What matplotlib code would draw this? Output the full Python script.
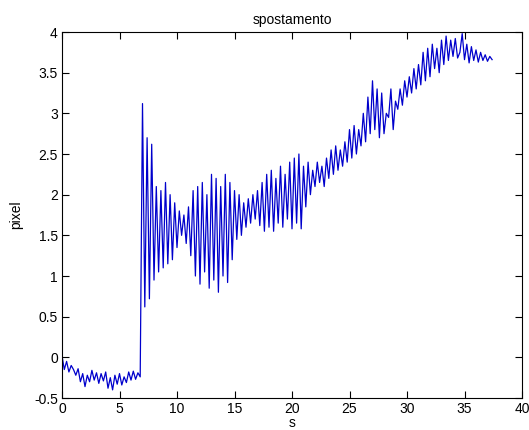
import numpy as np
import matplotlib
matplotlib.use("Agg")
import matplotlib.pyplot as plt

plt.rcParams['font.family'] = ['Liberation Sans', 'DejaVu Sans']
plt.rcParams['axes.unicode_minus'] = False

# sampling interval of the tracked displacement (s)
sample_step = 0.2

# displacement before the impulse (t = 0.0 .. 6.8 s)
rest_phase = [
    0.02, -0.15, -0.05, -0.18, -0.10, -0.15, -0.22, -0.14, -0.30, -0.20,
    -0.36, -0.22, -0.30, -0.16, -0.28, -0.19, -0.32, -0.20, -0.29, -0.18,
    -0.38, -0.25, -0.40, -0.22, -0.33, -0.20, -0.34, -0.24, -0.31, -0.18,
    -0.28, -0.17, -0.27, -0.19, -0.24,
]

# displacement after the impulse (t = 7.0 .. 37.4 s)
response_phase = [
    3.12, 0.62, 2.70, 0.72, 2.62, 0.95, 2.10, 1.05, 2.05, 1.10,
    2.15, 1.15, 2.00, 1.20, 1.90, 1.35, 1.80, 1.50, 1.75, 1.40,
    1.85, 1.25, 2.05, 1.00, 2.10, 0.90, 2.15, 1.05, 2.00, 0.85,
    2.25, 0.95, 2.20, 0.80, 2.10, 1.00, 2.25, 0.92, 2.15, 1.20,
    2.05, 1.45, 2.00, 1.50, 1.90, 1.60, 1.95, 1.65, 2.00, 1.70,
    2.05, 1.62, 2.15, 1.55, 2.25, 1.60, 2.30, 1.55, 2.20, 1.65,
    2.35, 1.60, 2.25, 1.70, 2.40, 1.58, 2.45, 1.65, 2.50, 1.58,
    2.35, 1.85, 2.40, 2.00, 2.30, 2.10, 2.40, 2.15, 2.35, 2.10,
    2.45, 2.20, 2.55, 2.25, 2.60, 2.30, 2.55, 2.35, 2.65, 2.40,
    2.80, 2.45, 2.85, 2.50, 2.80, 2.60, 3.00, 2.65, 3.20, 2.75,
    3.40, 2.80, 3.30, 2.70, 3.25, 2.75, 3.00, 2.95, 3.30, 2.80,
    3.15, 3.05, 3.30, 3.10, 3.40, 3.20, 3.45, 3.25, 3.55, 3.30,
    3.60, 3.35, 3.75, 3.40, 3.80, 3.45, 3.85, 3.55, 3.80, 3.50,
    3.90, 3.60, 3.95, 3.65, 3.90, 3.70, 3.92, 3.68, 3.75, 3.98,
    3.66, 3.85, 3.62, 3.82, 3.65, 3.78, 3.63, 3.75, 3.65, 3.72,
    3.64, 3.70, 3.66,
]

x_ticks = [0, 5, 10, 15, 20, 25, 30, 35, 40]
y_ticks = [-0.5, 0, 0.5, 1, 1.5, 2, 2.5, 3, 3.5, 4]

displacement = np.array(rest_phase + response_phase)
time = np.arange(len(displacement)) * sample_step

fig = plt.figure(figsize=(5.29, 4.30), dpi=100)
ax = fig.add_axes([62 / 529, 32 / 430, 460 / 529, 366 / 430])

ax.plot(time, displacement, color='#0000cc', linewidth=0.9)

ax.set_xlim(0, 40)
ax.set_ylim(-0.5, 4)
ax.set_xticks(x_ticks)
ax.set_yticks(y_ticks)
ax.set_xticklabels([f"{v:g}" for v in x_ticks])
ax.set_yticklabels([f"{v:g}" for v in y_ticks])

ax.tick_params(direction='in', length=5, width=0.8, labelsize=10,
               top=True, right=True, pad=3, colors='black')
for spine in ax.spines.values():
    spine.set_linewidth(0.8)

ax.set_title("spostamento", fontsize=10, pad=6)
ax.set_xlabel("s", fontsize=10, labelpad=0)
ax.set_ylabel("pixel", fontsize=10, labelpad=8)

fig.savefig("out.png", dpi=100)
